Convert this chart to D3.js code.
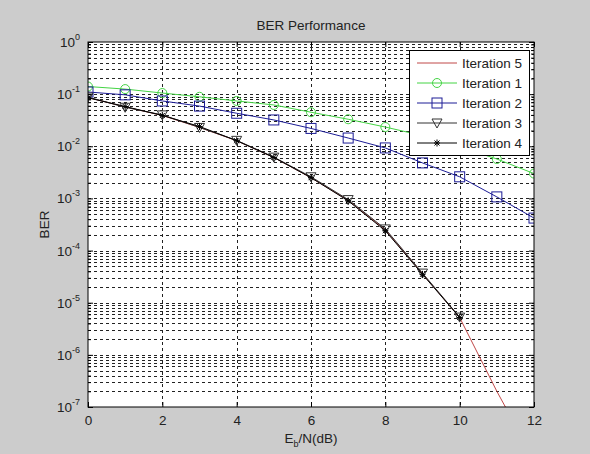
<!DOCTYPE html>
<html>
<head>
<meta charset="utf-8">
<script src="https://cdn.jsdelivr.net/npm/d3@7"></script>
<style>
  body { margin: 0; background: #cccccc; }
  svg { display: block; font-family: "Liberation Sans", Arial, sans-serif; }
</style>
</head>
<body>
<div id="my_dataviz"></div>
<script>
// Eb/N in dB
var snr = [0, 1, 2, 3, 4, 5, 6, 7, 8, 9, 10, 11, 12];
// BER per iteration
var iter1 = [0.14, 0.125, 0.105, 0.089, 0.074, 0.062, 0.045, 0.033, 0.0234, 0.016, 0.0098, 0.0057, 0.0030];
var iter2 = [0.11, 0.097, 0.074, 0.059, 0.043, 0.032, 0.022, 0.0144, 0.0093, 0.0048, 0.0026, 0.00107, 0.00042];
var iter3 = [0.088, 0.056, 0.040, 0.023, 0.013, 0.0062, 0.0026, 0.00095, 0.00026, 0.000037, 0.0000053];
var iter4 = [0.085, 0.058, 0.039, 0.024, 0.0128, 0.0061, 0.0025, 0.0009, 0.00024, 0.000035, 0.0000052];
var iter5 = [0.086, 0.057, 0.039, 0.023, 0.0128, 0.0061, 0.0025, 0.00092, 0.00025, 0.000036, 0.0000052, 0.0000002, 0.00000001];

var xTicks = [0, 2, 4, 6, 8, 10, 12];
var yExponents = [0, -1, -2, -3, -4, -5, -6, -7];
var legendNames = ["Iteration 5", "Iteration 1", "Iteration 2", "Iteration 3", "Iteration 4"];

var margin = { top: 42, right: 56, bottom: 47, left: 88 },
    width = 590 - margin.left - margin.right,
    height = 454 - margin.top - margin.bottom;

var svg = d3.select("#my_dataviz")
    .append("svg")
    .attr("width", 590)
    .attr("height", 454);

var g = svg.append("g")
    .attr("transform", "translate(" + margin.left + "," + margin.top + ")");

var x = d3.scaleLinear().domain([0, 12]).range([0, width]);
var y = d3.scaleLog().domain([1e-7, 1]).range([height, 0]);

// plot area
g.append("rect")
    .attr("width", width)
    .attr("height", height)
    .attr("fill", "white");

// minor + major y values
var yAll = [];
for (var e = -7; e < 0; e++) {
    for (var k = 1; k <= 9; k++) yAll.push(k * Math.pow(10, e));
}
var yMinor = yAll.filter(function (v, i) { return i % 9 != 0; });

var grid = g.append("g")
    .attr("stroke", "#222")
    .attr("stroke-width", 1)
    .attr("stroke-dasharray", "3,3");
grid.selectAll("hgrid")
    .data(yAll.slice(1))
    .enter()
    .append("line")
    .attr("x1", 0).attr("x2", width)
    .attr("y1", function (d) { return Math.round(y(d)) + 0.5; })
    .attr("y2", function (d) { return Math.round(y(d)) + 0.5; });
grid.selectAll("vgrid")
    .data(xTicks.slice(1, -1))
    .enter()
    .append("line")
    .attr("y1", 0).attr("y2", height)
    .attr("x1", function (d) { return Math.round(x(d)) + 0.5; })
    .attr("x2", function (d) { return Math.round(x(d)) + 0.5; });

// axes with inward ticks
var xAxis = g.append("g")
    .attr("transform", "translate(0," + height + ")")
    .call(d3.axisBottom(x).tickValues(xTicks).tickSizeInner(-5).tickSizeOuter(0).tickPadding(8));
g.append("g")
    .call(d3.axisTop(x).tickValues(xTicks).tickSizeInner(-5).tickSizeOuter(0).tickFormat(""));
g.append("g")
    .call(d3.axisLeft(y).tickValues(yExponents.map(function (p) { return Math.pow(10, p); }))
        .tickSizeInner(-5).tickSizeOuter(0).tickFormat(""));
g.append("g")
    .call(d3.axisLeft(y).tickValues(yMinor).tickSizeInner(-3).tickSizeOuter(0).tickFormat(""));
g.append("g")
    .attr("transform", "translate(" + width + ",0)")
    .call(d3.axisRight(y).tickValues(yExponents.map(function (p) { return Math.pow(10, p); }))
        .tickSizeInner(-5).tickSizeOuter(0).tickFormat(""));
g.append("g")
    .attr("transform", "translate(" + width + ",0)")
    .call(d3.axisRight(y).tickValues(yMinor).tickSizeInner(-3).tickSizeOuter(0).tickFormat(""));
g.selectAll(".domain").remove();
g.selectAll(".tick line").attr("stroke", "#000");
xAxis.selectAll("text").style("font-size", "13.5px").attr("fill", "#222");

// y labels 10^n
var ylab = g.selectAll("ylabels")
    .data(yExponents)
    .enter()
    .append("text")
    .attr("x", -8)
    .attr("y", function (d) { return y(Math.pow(10, d)) + 5; })
    .attr("text-anchor", "end")
    .style("font-size", "13.5px")
    .attr("fill", "#222")
    .text("10");
ylab.append("tspan")
    .attr("dy", -7)
    .style("font-size", "9px")
    .text(function (d) { return d; });

// data lines
var clip = g.append("clipPath").attr("id", "clip");
clip.append("rect").attr("width", width).attr("height", height);

var series = [
    { name: "Iteration 5", values: iter5, color: "#c04848", marker: "none" },
    { name: "Iteration 1", values: iter1, color: "#44d444", marker: "circle" },
    { name: "Iteration 2", values: iter2, color: "#1c1c96", marker: "square" },
    { name: "Iteration 3", values: iter3, color: "#333", marker: "triangle" },
    { name: "Iteration 4", values: iter4, color: "#000", marker: "star" }
];

var line = d3.line()
    .x(function (d) { return x(d.x); })
    .y(function (d) { return y(d.y); });

function pts(s) {
    return s.values.map(function (v, i) { return { x: snr[i], y: v }; });
}

function drawMarker(sel, type, color) {
    if (type == "circle") {
        sel.append("circle").attr("r", 4.5)
            .attr("fill", "none").attr("stroke", color);
    } else if (type == "square") {
        sel.append("rect").attr("x", -5).attr("y", -5).attr("width", 10).attr("height", 10)
            .attr("fill", "none").attr("stroke", color);
    } else if (type == "triangle") {
        sel.append("path").attr("d", "M-5,-4L5,-4L0,5Z")
            .attr("fill", "none").attr("stroke", color);
    } else if (type == "star") {
        sel.append("path").attr("d", "M-3,0L3,0M0,-3.5L0,3.5M-2.5,-2.5L2.5,2.5M-2.5,2.5L2.5,-2.5")
            .attr("stroke", color).attr("stroke-width", 1);
    }
}

var plot = g.append("g").attr("clip-path", "url(#clip)");
series.forEach(function (s) {
    var d = pts(s);
    plot.append("path")
        .attr("d", line(d))
        .attr("fill", "none")
        .attr("stroke", s.color)
        .attr("stroke-width", 1);
    if (s.marker != "none") {
        plot.selectAll("m")
            .data(d)
            .enter()
            .append("g")
            .attr("transform", function (p) { return "translate(" + x(p.x) + "," + y(p.y) + ")"; })
            .each(function () { drawMarker(d3.select(this), s.marker, s.color); });
    }
});

// box
g.append("rect")
    .attr("width", width)
    .attr("height", height)
    .attr("fill", "none")
    .attr("stroke", "#000");

// legend
var leg = g.append("g").attr("transform", "translate(" + (409 - margin.left) + "," + (50 - margin.top) + ")");
leg.append("rect")
    .attr("x", 0.5).attr("y", 0.5)
    .attr("width", 120).attr("height", 105)
    .attr("fill", "white")
    .attr("stroke", "#000");
var row = leg.selectAll("rows")
    .data(legendNames.map(function (n) { return series.filter(function (s) { return s.name == n; })[0]; }))
    .enter()
    .append("g")
    .attr("transform", function (d, i) { return "translate(0," + (13 + i * 20) + ")"; });
row.append("line")
    .attr("x1", 8).attr("x2", 48)
    .attr("stroke", function (d) { return d.color; });
row.append("g")
    .attr("transform", "translate(28,0)")
    .each(function (d) { drawMarker(d3.select(this), d.marker, d.color); });
row.append("text")
    .attr("x", 53)
    .attr("y", 5)
    .style("font-size", "13.5px")
    .attr("fill", "#222")
    .text(function (d) { return d.name; });

// title and axis labels
svg.append("text")
    .attr("x", margin.left + width / 2)
    .attr("y", 30)
    .attr("text-anchor", "middle")
    .style("font-size", "13.5px")
    .attr("fill", "#222")
    .text("BER Performance");

var xl = svg.append("text")
    .attr("x", margin.left + width / 2)
    .attr("y", 443)
    .attr("text-anchor", "middle")
    .style("font-size", "13.5px")
    .attr("fill", "#222")
    .text("E");
xl.append("tspan").attr("dy", 4).style("font-size", "9px").text("b");
xl.append("tspan").attr("dy", -4).text("/N(dB)");

svg.append("text")
    .attr("transform", "translate(49," + (margin.top + height / 2) + ") rotate(-90)")
    .attr("text-anchor", "middle")
    .style("font-size", "13.5px")
    .attr("fill", "#222")
    .text("BER");
</script>
</body>
</html>
